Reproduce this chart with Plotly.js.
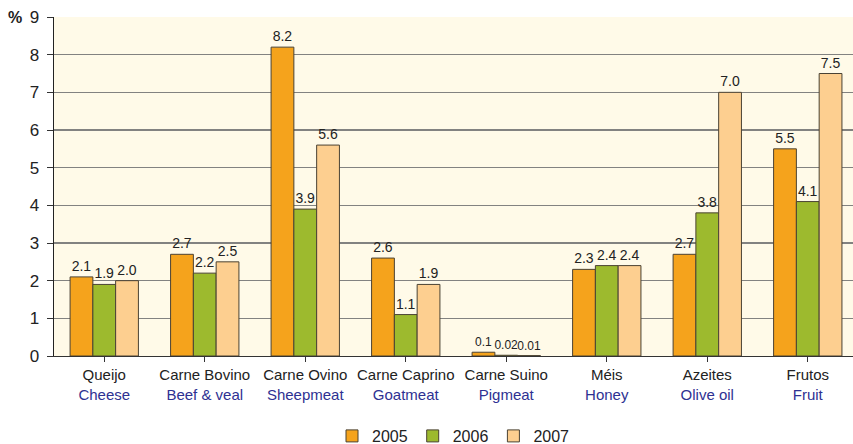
<!DOCTYPE html>
<html>
<head>
<meta charset="utf-8">
<script src="https://cdn.plot.ly/plotly-3.0.1.min.js"></script>
<style>html,body{margin:0;padding:0;background:#fff;}#chart{width:853px;height:444px;}</style>
</head>
<body>
<div id="chart"></div>
<script>
const categoriesPT = ["Queijo","Carne Bovino","Carne Ovino","Carne Caprino","Carne Suino","Méis","Azeites","Frutos"];
const categoriesEN = ["Cheese","Beef & veal","Sheepmeat","Goatmeat","Pigmeat","Honey","Olive oil","Fruit"];
const years = ["2005","2006","2007"];
const values2005 = [2.1, 2.7, 8.2, 2.6, 0.1, 2.3, 2.7, 5.5];
const values2006 = [1.9, 2.2, 3.9, 1.1, 0.02, 2.4, 3.8, 4.1];
const values2007 = [2.0, 2.5, 5.6, 1.9, 0.01, 2.4, 7.0, 7.5];
const labels2005 = ["2.1","2.7","8.2","2.6","0.1","2.3","2.7","5.5"];
const labels2006 = ["1.9","2.2","3.9","1.1","0.02","2.4","3.8","4.1"];
const labels2007 = ["2.0","2.5","5.6","1.9","0.01","2.4","7.0","7.5"];
const yTicks = [0,1,2,3,4,5,6,7,8,9];

const colors = ["#F5A31C", "#9DBA2E", "#FDCF90"];
const series = [values2005, values2006, values2007];
const labels = [labels2005, labels2006, labels2007];

const idx = categoriesPT.map((_, i) => i);
const tickText = categoriesPT.map((c, i) => c + "<br><span style='color:#2E3192'>" + categoriesEN[i] + "</span>");
// smaller labels where the three tiny Pigmeat values sit side by side
const labelSizes = categoriesPT.map((_, i) => i === 4 ? 12 : 14);

const traces = series.map((vals, k) => ({
  type: "bar",
  name: years[k],
  x: idx,
  y: vals,
  text: labels[k],
  textposition: "outside",
  constraintext: "none",
  cliponaxis: false,
  textfont: {family: "Liberation Sans, Arial, sans-serif", size: labelSizes, color: "#222"},
  marker: {color: colors[k], line: {color: "#4a4233", width: 1}},
  hoverinfo: "none"
}));

const layout = {
  width: 853, height: 444,
  margin: {l: 54, r: 0, t: 17, b: 88, autoexpand: false},
  paper_bgcolor: "#ffffff",
  plot_bgcolor: "#FFFAE8",
  barmode: "group",
  bargap: 0.32,
  bargroupgap: 0,
  font: {family: "Liberation Sans, Arial, sans-serif", color: "#222"},
  xaxis: {
    tickmode: "array", tickvals: idx, ticktext: tickText,
    range: [-0.5, 7.45],
    tickson: "boundaries",
    ticks: "outside", ticklen: 5, tickcolor: "#333", tickwidth: 1,
    showgrid: false, zeroline: false,
    showline: true, linecolor: "#333", linewidth: 1,
    tickfont: {size: 15, color: "#222"},
    automargin: false,
    fixedrange: true
  },
  yaxis: {
    range: [0, 9],
    tickmode: "array", tickvals: yTicks,
    ticks: "outside", ticklen: 6, tickcolor: "#333", tickwidth: 1,
    ticklabelstandoff: 4,
    showgrid: true, gridcolor: "#828280", gridwidth: 1.5,
    zeroline: false,
    showline: true, linecolor: "#222", linewidth: 1.5,
    tickfont: {size: 17, color: "#222"},
    automargin: false,
    fixedrange: true
  },
  legend: {
    orientation: "h", x: 0.5, xanchor: "center", y: -0.236, yanchor: "middle",
    font: {size: 16, color: "#222"},
    itemwidth: 30
  },
  annotations: [{
    text: "<b>%</b>", xref: "paper", yref: "paper", x: -0.049, y: 1.0,
    xanchor: "center", yanchor: "middle", showarrow: false,
    font: {size: 16, color: "#222"}
  }],
  showlegend: true
};

Plotly.newPlot("chart", traces, layout, {displayModeBar: false, staticPlot: true});
</script>
</body>
</html>
